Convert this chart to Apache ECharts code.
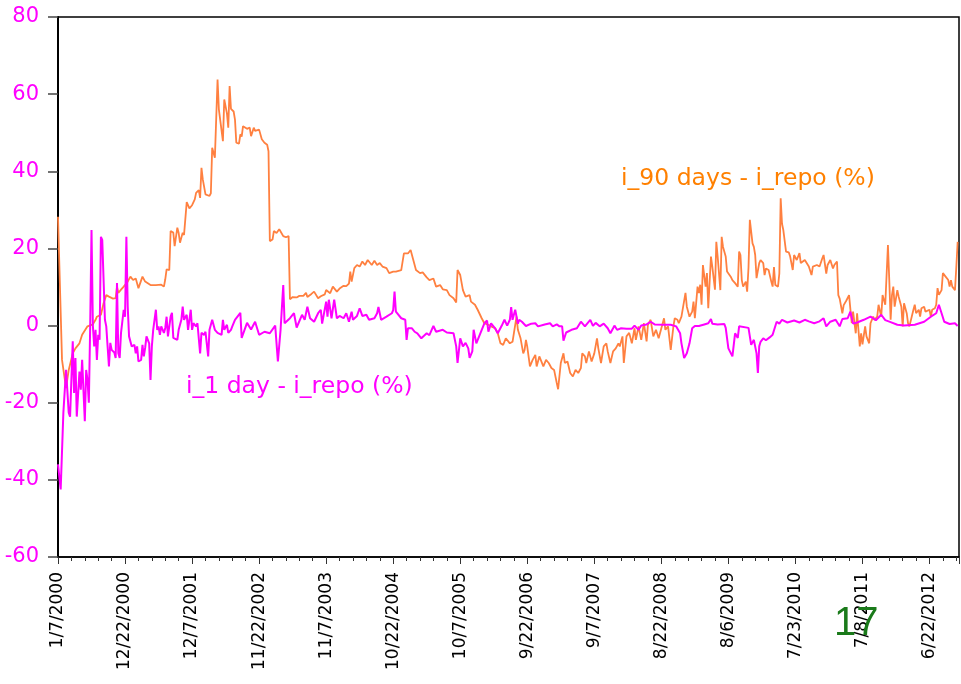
<!DOCTYPE html>
<html>
<head>
<meta charset="utf-8">
<script src="https://cdn.jsdelivr.net/npm/echarts@6/dist/echarts.min.js"></script>
<style>
  html, body { margin: 0; padding: 0; background: #fff; }
  #chart { width: 961px; height: 684px; }
</style>
</head>
<body>
<div id="chart"></div>
<script>
// x = weeks since 1/7/2000 (weekly data), tick every 50 weeks
const tickLabels = ['1/7/2000','12/22/2000','12/7/2001','11/22/2002','11/7/2003','10/22/2004','10/7/2005','9/22/2006','9/7/2007','8/22/2008','8/6/2009','7/23/2010','7/8/2011','6/22/2012'];
const yTicks = [80, 60, 40, 20, 0, -20, -40, -60];

// i_1 day - i_repo (%)  [week, value]
const spread1Day = [
[0,-36],[2,-42.5],[4,-22.6],[6,-11.5],[8,-22.6],[9,-23.6],[11,-4.1],[12,-17.5],[13,-8.4],[14,-23.6],
[16,-11.9],[17,-16.6],[18,-8.9],[20,-24.8],[21,-11.5],[22,-14],[23,-20],[24,-0.3],[25,24.8],[26,0],
[27,-5.4],[28,-1.1],[29,-8.9],[30,-2.4],[31,-3.7],[32,23],[33,22.2],[35,1.5],[36,-0.2],[37,-5.4],
[38,-10.6],[39,-4.5],[40,-6.3],[42,-7],[43,-8.4],[44,11],[45,-7.2],[46,-8.4],[47,-1.9],[49,4.1],
[50,2.3],[51,23],[52,4.9],[53,-2.8],[54,-2.4],[55,-5.4],[57,-5],[58,-7.2],[59,-5.4],[60,-9.3],
[62,-8.9],[63,-5],[64,-8],[65,-5.8],[66,-2.8],[67,-2.4],[68,-4.6],[69,-14.1],[70,-5.4],[71,-1.1],
[72,1.5],[73,4.1],[74,-1.1],[75,-0.2],[76,-2.4],[77,-0.2],[79,-1.9],[80,-0.6],[81,2.3],[82,-2.8],
[84,2.3],[85,3.3],[86,-3.2],[87,-2.8],[89,-3.7],[90,-1.1],[92,1.5],[93,4.9],[94,1.5],[96,2.8],
[97,-1.1],[99,4.1],[100,-1.1],[101,0.6],[103,-0.2],[104,0.6],[106,-7.2],[107,-1.9],[109,-2.4],[110,-1.6],
[112,-8],[113,-1.1],[115,1.5],[117,-1.1],[119,-1.9],[120,-1.6],[122,-2.4],[123,1.5],[124,-1.1],[126,0.2],
[127,-1.9],[129,-1.1],[130,-0.2],[132,1.5],[136,3.3],[137,-3.2],[141,0.7],[144,-1],[147,1],[150,-2.4],
[154,-1.6],[158,-2],[162,0],[164,-9.3],[166,-1.1],[168,10.5],[169,0.6],[173,1.9],[176,3.2],[178,-0.5],
[182,2.8],[184,1.5],[186,4.9],[188,1.9],[191,1],[194,3.2],[196,4.1],[197,0.5],[200,6.2],[201,2.3],
[202,6.7],[204,1.9],[206,6.7],[208,1.9],[210,2.5],[213,1.9],[215,3.2],[217,1],[219,3.6],[220,1.5],
[223,2.5],[225,4.5],[227,2.5],[230,2.8],[232,1.5],[236,1.9],[238,3.2],[239,4.8],[241,1.5],[245,2.3],
[249,3.2],[250,4],[251,8.8],[252,3.6],[256,1.9],[259,1.5],[260,-3.7],[261,-0.7],[264,-0.7],[266,-1.6],
[268,-2],[271,-3.3],[275,-2],[277,-2.5],[280,-0.1],[282,-1.6],[287,-1.1],[290,-1.8],[295,-2],[296,-2.5],
[297,-5.4],[298,-9.7],[300,-3.3],[302,-5.4],[304,-4.5],[306,-5.9],[307,-8.4],[309,-6.7],[310,-1.1],[312,-4.6],
[315,-2],[318,0.6],[320,1.3],[321,-1.6],[323,0.6],[326,-0.7],[328,-2],[331,0],[333,1.5],[335,0],
[337,1.5],[338,4.8],[339,1.5],[341,4.1],[343,0.5],[344,1.5],[346,1],[349,-0.1],[353,0.5],[356,0.6],
[358,-0.2],[363,0.3],[367,0.6],[369,-0.2],[372,0.3],[374,-0.2],[376,-0.2],[377,-3.9],[379,-1.8],[383,-1.1],
[387,-0.7],[390,1],[393,-0.2],[397,1.5],[399,-0.1],[401,0.7],[404,-0.2],[407,0.5],[410,-0.7],[412,-2],
[414,-0.7],[415,0],[417,-1.1],[420,-0.7],[424,-0.8],[428,-0.8],[430,0],[433,-1.1],[435,0],[439,0.3],
[442,1],[445,0.3],[452,0.2],[457,0.2],[461,-0.2],[464,-2],[465,-4.6],[467,-8.4],[469,-7.2],[471,-4.6],
[473,-0.7],[475,-0.1],[478,-0.1],[482,0.3],[485,0.6],[487,1.7],[488,0.5],[492,0.3],[497,0.4],[498,-0.6],
[500,-5.9],[501,-5.9],[503,-8],[505,-2],[507,-3.2],[508,-0.2],[515,-0.6],[516,-2.8],[517,-5],[519,-3.7],
[521,-7.2],[522,-12.3],[523,-5.4],[524,-4.2],[526,-3.3],[528,-3.8],[531,-3],[533,-2.4],[536,1],[538,0.5],
[540,1.5],[544,0.8],[549,1.3],[553,0.8],[557,1.5],[560,1.1],[564,0.6],[568,1.1],[571,1.9],[573,-0.2],
[576,1],[580,1.5],[583,-0.2],[585,1.7],[589,1.9],[591,3.6],[593,0.5],[596,0.8],[601,1.5],[606,2.3],
[610,1.4],[614,2.8],[617,1.4],[621,0.9],[626,0.2],[631,0],[639,0.2],[646,1],[651,2.3],[655,3.2],
[657,5.4],[659,3.2],[661,1],[665,0.4],[669,0.6],[671,-0.1]
];

// i_90 days - i_repo (%)  [week, value]
const spread90Days = [
[0,28.2],[3,-8.9],[6,-16.2],[8,-11.5],[11,-7.2],[13,-5.9],[16,-4.6],[18,-2.4],[22,-0.2],[26,0.3],
[28,1.5],[29,2.3],[32,2.8],[34,5.8],[36,7.9],[38,7.5],[41,7],[43,7.1],[44,10.1],[45,8.5],
[47,9.3],[49,10.1],[52,11.4],[54,12.7],[56,11.8],[58,12.2],[60,9.7],[63,12.7],[65,11.4],[69,10.5],
[73,10.5],[77,10.6],[79,10.1],[80,12],[81,14.6],[83,14.4],[84,24.5],[86,24.1],[87,20.6],[89,25.4],
[90,24],[91,21.5],[93,24.1],[94,23.5],[95,23.2],[96,32],[98,30.4],[100,31.2],[102,32.7],[103,34.4],
[105,35.1],[106,33.1],[107,40.9],[108,37.9],[110,34],[111,34.5],[113,33.6],[114,34.3],[115,46.1],[116,45.6],
[117,43.5],[119,63.8],[120,56],[123,47.8],[124,58.6],[126,55],[127,51.3],[128,62.1],[129,56.2],[131,55.5],
[132,53.4],[133,47.4],[135,47.2],[136,49.6],[137,49],[138,51.7],[141,51],[143,51.3],[144,49.1],[146,51.3],
[147,50.5],[150,50.8],[152,48.3],[154,47.4],[156,46.9],[157,45.2],[158,21.9],[160,22.3],[161,24.5],[163,24],
[165,25],[166,24.4],[168,23.2],[170,22.9],[172,23.2],[173,6.8],[175,7.4],[178,7.3],[180,7.7],[183,7.7],
[185,8.5],[186,7.4],[189,8.2],[191,8.8],[194,7.1],[196,7.6],[199,8.1],[200,9.2],[203,8.4],[205,10.1],
[208,8.8],[210,9.6],[213,10.3],[215,10.2],[217,10.9],[218,14],[219,11.4],[221,14.9],[223,15.7],[225,15.3],
[227,16.6],[229,15.7],[231,17],[234,15.7],[236,16.8],[238,15.7],[240,16.2],[242,15.3],[245,14.9],[247,13.6],
[250,14],[252,14],[256,14.4],[258,18.7],[261,18.7],[263,19.6],[265,17],[267,14.4],[270,13.6],[272,13.8],
[273,14],[275,12.5],[277,11.8],[280,12.2],[282,10.1],[285,10.5],[287,9.4],[290,9.2],[292,7.9],[295,7.1],
[297,6],[298,14.4],[300,13.1],[302,9.2],[304,7.5],[307,7.9],[308,6.2],[311,5.4],[313,4.1],[316,1.9],
[318,0.6],[321,0.2],[323,-0.2],[326,-0.7],[328,-2],[330,-4.6],[332,-5],[334,-3.3],[337,-4.6],[339,-4.2],
[340,-2],[342,2.3],[343,-1.1],[345,-3.3],[347,-7.2],[348,-6.3],[349,-3.7],[350,-5.5],[352,-10.6],[354,-8.9],
[356,-7.6],[357,-10.6],[359,-8],[362,-10.6],[364,-8.9],[366,-9.7],[368,-11],[370,-11.5],[372,-14.9],[373,-16.5],
[375,-9.7],[377,-7.2],[378,-9.7],[380,-9.3],[382,-12.3],[384,-13.2],[386,-11.5],[388,-12.3],[390,-11],[391,-7.2],
[393,-8],[394,-9.7],[396,-6.7],[398,-9.3],[400,-7.2],[402,-3.3],[403,-5.9],[405,-9.7],[407,-5.4],[409,-4.6],
[410,-6.7],[412,-9.7],[414,-6.7],[416,-5.9],[418,-4.6],[419,-5.4],[421,-2.8],[422,-9.7],[424,-2.8],[426,-1.9],
[428,-4.6],[430,-0.7],[431,-3.7],[433,-0.2],[435,-3.7],[437,0.6],[439,-4.1],[440,0.2],[442,1.5],[444,-2.8],
[446,-1.1],[448,-3.3],[450,-0.7],[452,1.9],[453,-1.1],[455,-0.2],[457,-6.3],[459,-0.2],[460,1.9],[462,1.5],
[463,0.6],[465,2.3],[466,2.8],[468,8.5],[469,4.9],[471,2.3],[473,3.6],[474,6.2],[475,1.9],[477,10.1],
[478,8.4],[479,10.6],[480,5.4],[481,15.7],[483,10.1],[484,13.6],[485,4.5],[487,17.9],[488,15.3],[490,9.3],
[491,21.7],[492,17.9],[494,9.2],[495,23],[496,20.4],[498,17.9],[499,14],[500,14],[502,12.5],[503,11.8],
[505,11],[507,10.1],[508,19.2],[509,18.3],[510,11.8],[511,10.1],[513,11.4],[514,8.8],[515,15],[516,27.4],
[518,21.3],[519,20.4],[520,18.3],[521,12.3],[523,16.2],[524,17],[526,16.2],[527,13.1],[528,14.8],[530,14.4],
[532,11.4],[533,10.1],[534,15.2],[535,10.5],[537,10.1],[538,13.5],[539,33],[540,26.4],[541,24.7],[543,19.2],
[545,19],[546,18],[548,14.4],[549,18.3],[551,17],[553,18.8],[554,16.2],[555,15.7],[557,17],[558,16.6],
[560,15.3],[562,13.1],[563,15.3],[564,14.8],[566,15.7],[568,15.3],[570,17.4],[571,18.3],[573,13.5],[574,15.7],
[576,17],[578,14.8],[579,15.7],[581,16.6],[582,7.9],[583,7],[585,3.2],[586,5.3],[588,6.5],[589,6],
[590,7.9],[592,0.6],[593,3.6],[595,-2],[596,3.2],[598,-5.4],[599,-2],[600,-4.9],[602,-0.2],[603,-2.8],
[605,-4.6],[606,0.6],[608,2.3],[609,1.5],[611,2.3],[612,5.4],[614,2.3],[615,7.9],[616,8.3],[617,5.4],
[619,20.9],[620,11.8],[621,1.5],[622,7.9],[623,10.1],[624,4.9],[626,9.2],[627,7.5],[629,4.9],[630,-0.2],
[631,5.8],[633,3.2],[634,0.6],[635,-0.2],[636,0.2],[638,4.1],[639,5.4],[640,3.2],[642,4.1],[643,2.3],
[644,4.5],[646,4.9],[647,3.6],[648,3.2],[650,4.1],[651,2.3],[652,4.1],[654,4.5],[655,5.4],[656,9.7],
[657,8],[659,9.2],[660,13.6],[661,14.1],[662,12.7],[664,11.8],[665,10.1],[666,11.8],[667,10.1],[669,9.2],
[670,15.2],[671,21.7]
];

const chart = echarts.init(document.getElementById('chart'), null, { renderer: 'canvas' });
chart.setOption({
  animation: false,
  backgroundColor: '#ffffff',
  grid: { left: 58, right: 2, top: 17, bottom: 127, show: true, borderColor: '#000', borderWidth: 1.5, containLabel: false },
  xAxis: {
    type: 'value', min: 0, max: 672, interval: 50,
    axisLine: { show: true, onZero: false, lineStyle: { color: '#000', width: 1.5 } },
    axisTick: { show: true, length: 7, lineStyle: { color: '#333' } },
    minorTick: { show: true, splitNumber: 5, length: 4, lineStyle: { color: '#333' } },
    splitLine: { show: false },
    axisLabel: {
      rotate: 90, margin: 15, color: '#000', fontFamily: 'DejaVu Sans', fontSize: 17,
      showMaxLabel: false,
      formatter: function (v) { const i = Math.round(v / 50); return (Math.abs(v - i * 50) < 1e-6 && tickLabels[i]) ? tickLabels[i] : ''; }
    }
  },
  yAxis: {
    type: 'value', min: yTicks[yTicks.length - 1], max: yTicks[0], interval: 20,
    axisLine: { show: true, lineStyle: { color: '#000', width: 2 } },
    axisTick: { show: true, inside: false, length: 10, lineStyle: { color: '#444', width: 1.5 } },
    splitLine: { show: false },
    axisLabel: { color: '#ff00ff', fontFamily: 'DejaVu Sans', fontSize: 21, margin: 19 }
  },
  series: [
    { name: 'i_90 days - i_repo (%)', type: 'line', data: spread90Days, showSymbol: false, symbol: 'none',
      lineStyle: { color: '#ff8040', width: 1.8 }, z: 2 },
    { name: 'i_1 day - i_repo (%)', type: 'line', data: spread1Day, showSymbol: false, symbol: 'none',
      lineStyle: { color: '#ff00ff', width: 2 }, z: 3 }
  ],
  graphic: [
    { type: 'text', left: 621, top: 167, z: 10, style: { text: 'i_90 days - i_repo (%)', fill: '#ff8000', font: '23.5px "DejaVu Sans"' } },
    { type: 'text', left: 186, top: 375, z: 10, style: { text: 'i_1 day - i_repo (%)', fill: '#ff00ff', font: '23.5px "DejaVu Sans"' } },
    { type: 'text', left: 834, top: 604, z: 10, style: { text: '17', fill: '#1a7a1a', font: '40px "Liberation Sans Narrow", "Liberation Sans"' } }
  ]
});
</script>
</body>
</html>
